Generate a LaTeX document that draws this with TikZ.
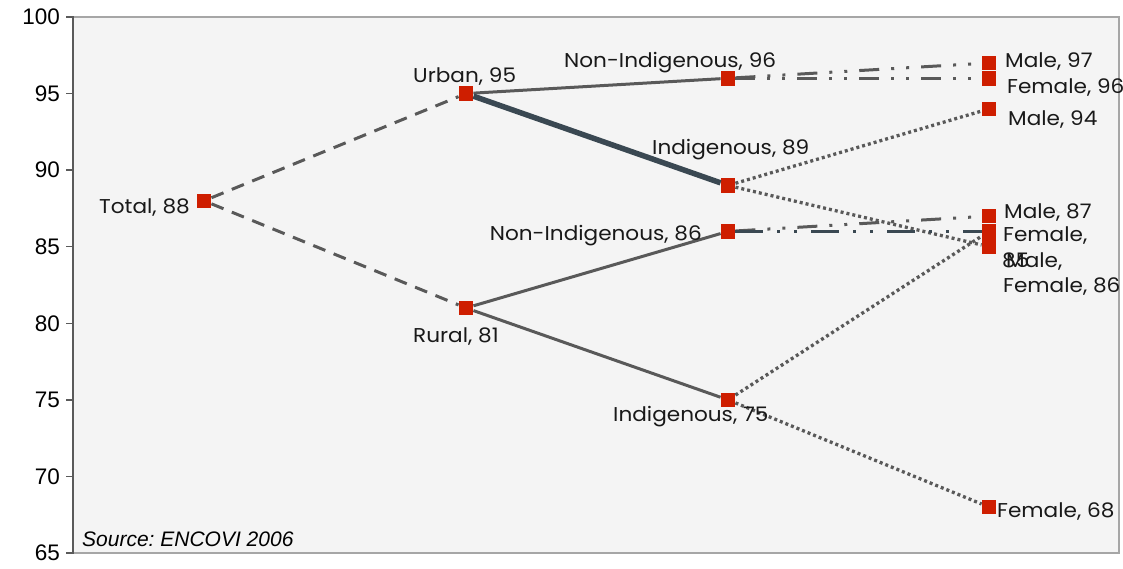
\documentclass[tikz,border=0pt]{standalone}
\usepackage{fontspec}
\setmainfont{Liberation Sans}
\newfontfamily\labfont[FakeStretch=1.08]{Poppins}
\definecolor{plotbg}{HTML}{F4F4F4}
\definecolor{framec}{HTML}{A6A6A6}
\definecolor{axisc}{HTML}{5A5A5A}
\definecolor{lgray}{HTML}{595959}
\definecolor{dslate}{HTML}{3A4852}
\definecolor{mred}{RGB}{206,30,0}
\frenchspacing
\begin{document}
\begin{tikzpicture}[x=1pt,y=-1pt,
  mk/.style={rectangle,fill=mred,minimum size=14.5pt,inner sep=0pt,draw=none},
  lbl/.style={font=\labfont\fontsize{20}{22}\selectfont,inner sep=0pt,text=black!90},
  axl/.style={font=\fontsize{22.5}{24}\selectfont,anchor=east,inner sep=0pt},
  solidl/.style={draw=lgray,line width=3pt},
  thickl/.style={draw=dslate,line width=5.5pt},
  dashl/.style={draw=lgray,line width=3pt,dash pattern=on 13pt off 9pt},
  dotl/.style={draw=lgray,line width=3.3pt,dash pattern=on 3pt off 3pt},
  ddotl/.style={draw=lgray,line width=3pt,dash pattern=on 20pt off 12pt on 3pt off 12pt on 3pt off 12pt},
  ddotd/.style={draw=dslate,line width=3.3pt,dash pattern=on 28pt off 14pt on 3pt off 14pt on 3pt off 14pt}
]
\useasboundingbox (0,0) rectangle (1123,568);
\fill[white] (0,0) rectangle (1123,568);
\fill[plotbg] (73,17) rectangle (1119,553);
\draw[framec,line width=2pt] (73,17) -- (1119,17) -- (1119,553) -- (73,553);
\draw[axisc,line width=2pt] (73,16) -- (73,554);
\foreach \v in {65,70,...,100}{
  \pgfmathsetmacro\yy{17+(100-\v)*15.314}
  \draw[axisc,line width=1.5pt] (66,\yy) -- (73,\yy);
  \node[axl] at (60,\yy) {\v};
}
% markers
\node[mk] (tot) at (204,200.77) {};
\node[mk] (urb) at (466,93.57) {};
\node[mk] (rur) at (466,307.97) {};
\node[mk] (uni) at (728,78.26) {};
\node[mk] (uin) at (728,185.45) {};
\node[mk] (rni) at (728,231.40) {};
\node[mk] (rin) at (728,399.85) {};
\node[mk] (m97) at (989,62.94) {};
\node[mk] (f96) at (989,78.26) {};
\node[mk] (m94) at (989,108.88) {};
\node[mk] (m87) at (989,216.08) {};
\node[mk] (f86) at (989,231.40) {};
\node[mk] (m86) at (989,231.40) {};
\node[mk] (f85) at (989,246.71) {};
\node[mk] (f68) at (989,507.05) {};
% connectors
\draw[dashl] (tot) -- (urb);
\draw[dashl] (tot) -- (rur);
\draw[solidl] (urb) -- (uni);
\draw[thickl] (urb) -- (uin);
\draw[solidl] (rur) -- (rni);
\draw[solidl] (rur) -- (rin);
\draw[ddotl] (uni) -- (m97);
\draw[ddotl] (uni) -- (f96);
\draw[dotl] (uin) -- (m94);
\draw[dotl] (uin) -- (f85);
\draw[ddotl] (rni) -- (m87);
\draw[ddotd] (rni) -- (f86);
\draw[dotl] (rin) -- (m86);
\draw[dotl] (rin) -- (f68);
% labels
\node[lbl,anchor=base east] (ltot) at (190,213) {Total, 88};
\node[lbl,anchor=base west] (lurb) at (413,82) {Urban, 95};
\node[lbl,anchor=base west] (luni) at (564,67) {Non-Indigenous, 96};
\node[lbl,anchor=base west] (luin) at (652,154) {Indigenous, 89};
\node[lbl,anchor=base east] (lrni) at (702,240) {Non-Indigenous, 86};
\node[lbl,anchor=base west] (lrur) at (413,342) {Rural, 81};
\node[lbl,anchor=base west] (lrin) at (613,421) {Indigenous, 75};
\node[lbl,anchor=base west] (lm97) at (1005,67) {Male, 97};
\node[lbl,anchor=base west] (lf96) at (1007,93) {Female, 96};
\node[lbl,anchor=base west] (lm94) at (1008,125) {Male, 94};
\node[lbl,anchor=base west] (lm87) at (1004,218) {Male, 87};
\node[lbl,anchor=base west] (lf85a) at (1003,241) {Female,};
\node[lbl,anchor=base west] (lf85b) at (1002,267) {85};
\node[lbl,anchor=base west] (lm86) at (1006,267) {Male,};
\node[lbl,anchor=base west] (lf86) at (1003,292) {Female, 86};
\node[lbl,anchor=base west] (lf68) at (997,517) {Female, 68};
\node[font=\itshape\fontsize{21}{23}\selectfont,anchor=base west,inner sep=0pt] (src) at (82,546) {Source: ENCOVI 2006};
\end{tikzpicture}
\end{document}
